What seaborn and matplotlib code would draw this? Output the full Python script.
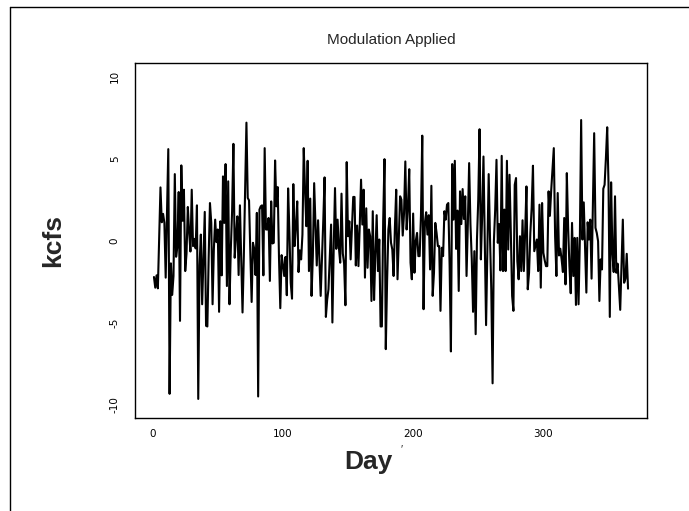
import matplotlib
matplotlib.use("Agg")
import matplotlib.pyplot as plt
import seaborn as sns
import pandas as pd
from matplotlib.lines import Line2D

# Daily flow deviation (kcfs) with modulation applied, days 1..365
days = list(range(1, 366))
kcfs = [
    -2.22, -2.87, -2.12, -2.91, 0.20, 3.23, 1.11, 1.62, 1.07, -2.26,
    1.50, 5.56, -9.33, -1.39, -3.31, -2.16, 4.04, -0.99, -0.34, 2.95,
    -4.89, 4.57, 1.20, 3.09, -1.86, -0.79, 2.04, 0.50, -0.67, 3.09,
    -0.34, 0.10, -0.48, 2.14, -9.64, -1.50, 0.36, -3.88, -1.00, 1.74,
    -5.19, -5.23, -1.00, 2.28, 1.07, -3.88, -0.50, 1.27, -0.10, 0.67,
    -4.34, 1.17, -2.12, 3.90, 1.07, 4.65, -2.77, 3.60, -3.88, -0.55,
    1.80, 5.88, -1.05, 0.30, 1.47, -2.10, 2.14, -1.00, -4.38, -0.95,
    3.00, 7.17, 2.59, 2.44, -0.80, -3.74, -0.14, -0.51, -2.10, 1.68,
    -9.49, 1.88, 2.08, 2.14, -2.12, 5.62, 0.67, 0.67, 1.37, -2.46,
    2.38, -0.18, -0.14, 4.87, 2.08, 3.25, -1.05, -4.12, -0.89, -1.45,
    -2.16, -1.00, -3.33, 3.17, 0.50, -2.57, -3.54, 3.43, -0.34, 0.90,
    2.38, -1.92, -0.60, -1.15, 0.36, 5.62, 3.09, 0.87, 4.85, -1.86,
    2.55, -3.37, -0.95, 3.49, 1.00, -1.52, 1.23, -1.00, -3.37, -1.15,
    1.20, 3.84, -4.65, -3.60, -2.97, -1.00, 0.97, -4.99, -0.50, 3.19,
    -0.51, 1.27, -0.44, -1.35, 2.85, -0.79, -1.41, -3.94, 4.77, 0.26,
    1.17, -1.15, 0.80, 2.65, 2.65, -1.52, 0.91, -1.56, 0.91, 3.70,
    0.97, 3.09, -2.26, 1.96, -1.66, 0.67, 0.26, -3.68, 1.78, -3.62,
    -0.80, 1.54, -1.86, 0.06, -5.23, -5.23, 1.20, 4.95, -6.61, -2.50,
    0.67, 1.37, -0.14, -0.55, -2.16, 0.80, 3.09, -2.36, 0.20, 2.69,
    2.48, 0.30, 1.64, 4.81, 0.67, 2.00, 4.34, -1.35, -2.36, 1.64,
    -1.96, -0.04, 0.46, -0.95, -0.95, 1.50, 6.38, -4.18, 1.07, 1.72,
    0.36, 1.54, -1.76, 3.33, -3.37, -1.96, 1.07, 0.46, -0.34, -0.34,
    -4.28, -0.44, -0.95, 1.78, 1.27, 2.18, 2.28, -1.50, -6.75, 4.65,
    1.27, 4.85, -0.51, 1.82, -3.07, 2.99, 1.00, 3.13, 1.31, 2.69,
    -2.16, 1.00, 4.71, 1.00, -1.11, -4.34, -0.65, -5.70, 0.06, 2.50,
    6.77, -1.15, 1.50, 5.11, 0.16, -5.15, -0.50, 4.04, 0.22, -3.00,
    -8.69, -0.04, 1.88, 4.91, -0.14, 1.00, -1.82, 5.15, -1.86, 1.88,
    -1.86, 4.85, -0.55, 4.00, 0.50, -3.37, -4.28, 3.39, 3.80, -1.25,
    -2.36, 0.26, -1.86, 1.23, -1.86, 0.50, 3.29, -2.97, -1.96, 0.46,
    2.00, 4.55, -0.65, -0.30, 0.06, -1.86, 2.18, -2.87, 2.28, -0.75,
    -1.20, -1.56, -1.56, 2.99, 1.50, 3.05, 4.30, 5.62, 0.26, -2.16,
    2.89, -0.91, -0.50, -1.15, -1.92, 1.37, -2.67, 4.10, 0.80, -1.56,
    -3.21, 1.07, -2.16, 0.16, -3.92, 0.16, -3.88, 0.06, 7.33, 0.06,
    2.32, -0.50, -3.17, 1.11, 0.06, 1.27, -2.32, 2.00, 6.53, 0.77,
    0.46, -0.04, -3.68, -1.15, -1.76, 3.15, 3.39, 5.00, 6.89, 3.49,
    -4.65, 3.54, -0.75, -1.92, 2.69, -1.96, -1.41, -2.80, -4.22, -1.52,
    1.27, -2.57, -2.32, -0.81, -2.93,
]
x_ticks = [0, 100, 200, 300]
y_ticks = [-10, -5, 0, 5, 10]
y_tick_labels = ["-10", "-5", "0", "5", "10"]

sns.set_style("white")
plt.rcParams["font.family"] = ["Liberation Sans", "DejaVu Sans"]

df = pd.DataFrame({"Day": days, "kcfs": kcfs})

fig = plt.figure(figsize=(6.89, 5.11), dpi=100)
ax = fig.add_axes([135 / 689, 1 - 418 / 511, 512 / 689, 355 / 511])

sns.lineplot(data=df, x="Day", y="kcfs", color="black", linewidth=1.5, ax=ax)

ax.set_xlim(-13.56, 379.56)
ax.set_ylim(-10.8, 10.8)

ax.set_xticks(x_ticks)
ax.set_xticklabels([str(t) for t in x_ticks], fontsize=7.5, family="DejaVu Sans")
ax.set_yticks(y_ticks)
ax.set_yticklabels(y_tick_labels, fontsize=7.5, family="DejaVu Sans",
                   rotation=90, va="center")
ax.tick_params(axis="x", direction="out", length=4, width=0.9, pad=4, colors="black")
ax.tick_params(axis="y", direction="out", length=5, width=0.9, pad=6, colors="black")

for side in ["left", "right", "top", "bottom"]:
    ax.spines[side].set_visible(True)
    ax.spines[side].set_color("black")
    ax.spines[side].set_linewidth(1.0)

ax.set_xlabel("Day", fontsize=19, fontweight="bold")
ax.xaxis.set_label_coords(0.455, -0.09)
ax.set_ylabel("kcfs", fontsize=19, fontweight="bold")
ax.yaxis.set_label_coords(-0.137, 0.5)
ax.set_title("Modulation Applied", fontsize=11, pad=14)

# small prime mark beside the x label
fig.text(402 / 689, 1 - 449 / 511, "\u2032", fontsize=8, ha="center", va="center")

# outer page frame (left and top edges)
fig.add_artist(Line2D([10 / 689, 10 / 689], [0, 1 - 7 / 511], transform=fig.transFigure,
                      color="black", linewidth=1.0))
fig.add_artist(Line2D([10 / 689, 1], [1 - 7 / 511, 1 - 7 / 511], transform=fig.transFigure,
                      color="black", linewidth=1.0))

fig.savefig("out.png", dpi=100, facecolor="white")
